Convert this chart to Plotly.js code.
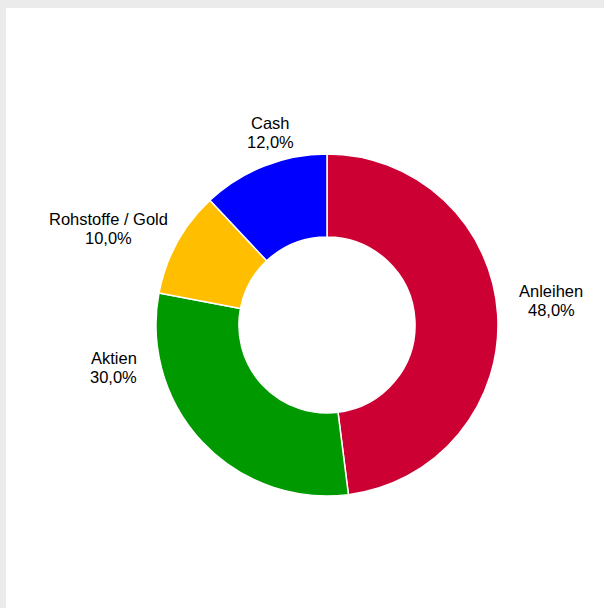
<!DOCTYPE html>
<html>
<head>
<meta charset="utf-8">
<script src="https://cdn.plot.ly/plotly-3.0.1.min.js"></script>
<style>
  html, body { margin: 0; padding: 0; background: #ebebeb; width: 604px; height: 608px; overflow: hidden; }
  #chart { position: absolute; left: 6px; top: 8px; width: 598px; height: 600px; background: #ffffff; }
</style>
</head>
<body>
<div id="chart"></div>
<script>
const categories = ["Anleihen", "Aktien", "Rohstoffe / Gold", "Cash"];
const values = [48, 30, 10, 12];
const valueLabels = ["48,0%", "30,0%", "10,0%", "12,0%"];
const colors = ["#CC0033", "#009900", "#FFBF00", "#0000FF"];

// label anchor positions (paper fraction) – layout only
const labelX = [0.9122, 0.1806, 0.1706, 0.4415];
const labelY = [0.5133, 0.4008, 0.6325, 0.7925];

const trace = {
  type: "pie",
  labels: categories,
  values: values,
  textinfo: "none",
  hole: 0.515,
  sort: false,
  direction: "clockwise",
  rotation: 0,
  marker: { colors: colors, line: { color: "#ffffff", width: 1.5 } },
  domain: { x: [0.2508, 0.8227], y: [0.1867, 0.7567] },
  hoverinfo: "none"
};

const labelFont = { family: "Liberation Sans, Arial, sans-serif", size: 16.5, color: "#000000" };
const annotations = [];
categories.forEach((c, i) => {
  [[c, 9.5], [valueLabels[i], -9.5]].forEach(([t, shift]) => {
    annotations.push({
      xref: "paper", yref: "paper",
      x: labelX[i], y: labelY[i],
      xanchor: "center", yanchor: "middle",
      yshift: shift,
      text: t,
      showarrow: false,
      font: labelFont
    });
  });
});

const layout = {
  width: 598,
  height: 600,
  margin: { l: 0, r: 0, t: 0, b: 0 },
  paper_bgcolor: "#ffffff",
  showlegend: false,
  annotations: annotations
};

Plotly.newPlot("chart", [trace], layout, { displayModeBar: false, staticPlot: true });
</script>
</body>
</html>
